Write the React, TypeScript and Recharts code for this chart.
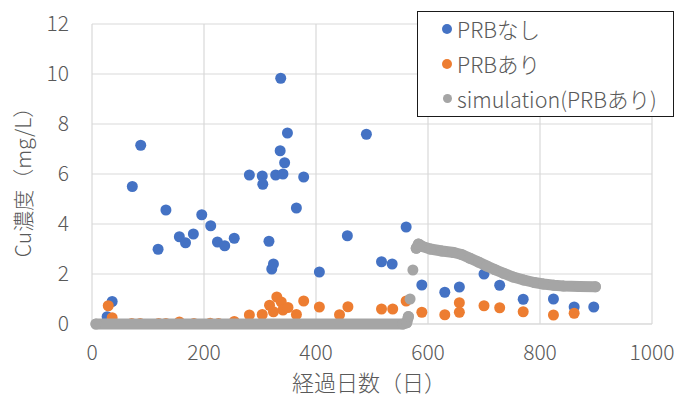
import React from 'react';
import { ScatterChart, Scatter, XAxis, YAxis, CartesianGrid } from 'recharts';

const xTicks = [0, 200, 400, 600, 800, 1000];
const yTicks = [0, 2, 4, 6, 8, 10, 12];
const seriesNames = ['PRBなし', 'PRBあり', 'simulation(PRBあり)'];
const xTitle = '経過日数（日）';
const yTitle = 'Cu濃度（mg/L）';

// PRBなし (days, mg/L)
const prbNoneDays = [27, 36, 72, 87, 118, 132, 156, 167, 181, 196, 212, 224, 237, 254, 281, 304, 305, 316, 321, 324, 328, 336, 337, 341, 344, 349, 365, 378, 406, 456, 490, 517, 536, 561, 589, 630, 656, 700, 728, 770, 824, 861, 896];
const prbNoneVals = [0.29, 0.9, 5.5, 7.15, 2.99, 4.56, 3.49, 3.25, 3.6, 4.37, 3.93, 3.28, 3.13, 3.43, 5.96, 5.92, 5.59, 3.31, 2.2, 2.4, 5.96, 6.93, 9.83, 6.0, 6.45, 7.64, 4.64, 5.88, 2.08, 3.53, 7.59, 2.49, 2.4, 3.88, 1.56, 1.27, 1.48, 2.0, 1.55, 0.99, 1.0, 0.68, 0.68];

// PRBあり
const prbDays = [29, 36, 71, 86, 119, 132, 156, 182, 211, 226, 254, 281, 304, 317, 324, 330, 338, 341, 350, 365, 378, 406, 442, 457, 517, 537, 561, 589, 630, 656, 656, 700, 728, 770, 824, 861];
const prbVals = [0.73, 0.25, 0.02, 0.02, 0.02, 0.02, 0.08, 0.02, 0.03, 0.02, 0.1, 0.36, 0.38, 0.75, 0.49, 1.08, 0.88, 0.56, 0.66, 0.38, 0.92, 0.68, 0.37, 0.69, 0.6, 0.6, 0.92, 0.47, 0.37, 0.85, 0.47, 0.73, 0.65, 0.49, 0.36, 0.43];

// simulation(PRBあり): three visible pieces
const simFlatDays = [7, 555, 562, 565];
const simFlatVals = [0, 0, 0.05, 0.3];
const simRiseDays = [568, 573];
const simRiseVals = [1.0, 2.16];
const simTailDays = [579, 583, 590, 604, 625, 646, 660, 675, 690, 705, 720, 735, 752, 771, 790, 806, 825, 842, 870, 899];
const simTailVals = [3.03, 3.2, 3.1, 3.0, 2.92, 2.86, 2.78, 2.63, 2.48, 2.32, 2.17, 2.03, 1.88, 1.76, 1.66, 1.6, 1.55, 1.52, 1.5, 1.49];

const BLUE = '#4472C4';
const ORANGE = '#ED7D31';
const GRAY = '#A5A5A5';
const TEXT = '#595959';
const FONT = '"Noto Sans CJK JP", "Noto Sans", sans-serif';
const WEIGHT = 300;

const zip = (xs: number[], ys: number[]) => xs.map((x, i) => ({ x, y: ys[i] }));

const dot = (color: string) => (p: any) => <circle cx={p.cx} cy={p.cy} r={5.5} fill={color} />;

const YTitle = (props: any) => {
  const vb = props.viewBox || { y: 24, height: 300 };
  const cx = 22;
  const cy = vb.y + vb.height / 2 + 3;
  return (
    <text x={cx} y={cy} transform={`rotate(-90 ${cx} ${cy})`} textAnchor="middle" dominantBaseline="central" fill={TEXT} fontSize={21} fontWeight={WEIGHT} fontFamily={FONT}>
      {yTitle}
    </text>
  );
};

const XTitle = (props: any) => {
  const vb = props.viewBox || { x: 92, width: 560 };
  const cx = vb.x + vb.width / 2 - 3;
  return (
    <text x={cx} y={381} textAnchor="middle" dominantBaseline="central" fill={TEXT} fontSize={22} fontWeight={WEIGHT} fontFamily={FONT}>
      {xTitle}
    </text>
  );
};

const legendColors = [BLUE, ORANGE, GRAY];

export default function App() {
  return (
    <div style={{ position: 'absolute', left: 0, top: 0, width: 676, height: 396, background: '#fff' }}>
      <ScatterChart width={676} height={396} margin={{ top: 24, right: 24, left: 0, bottom: 0 }}>
        <CartesianGrid stroke="#D9D9D9" strokeWidth={1.2} />
        <XAxis
          type="number"
          dataKey="x"
          domain={[0, 1000]}
          ticks={xTicks}
          tickLine={false}
          tickSize={0}
          tickMargin={21}
          axisLine={{ stroke: '#D9D9D9' }}
          height={72}
          tick={{ fill: TEXT, fontSize: 21, fontWeight: WEIGHT, fontFamily: FONT }}
          label={{ value: xTitle, content: XTitle }}
        />
        <YAxis
          type="number"
          dataKey="y"
          domain={[0, 12]}
          ticks={yTicks}
          tickLine={false}
          tickSize={0}
          tickMargin={23}
          axisLine={false}
          width={92}
          tick={{ fill: TEXT, fontSize: 21, fontWeight: WEIGHT, fontFamily: FONT }}
          label={{ value: yTitle, content: YTitle }}
        />
        <Scatter name={seriesNames[0]} data={zip(prbNoneDays, prbNoneVals)} fill={BLUE} shape={dot(BLUE)} isAnimationActive={false} />
        <Scatter name={seriesNames[1]} data={zip(prbDays, prbVals)} fill={ORANGE} shape={dot(ORANGE)} isAnimationActive={false} />
        <Scatter
          name={seriesNames[2]}
          data={zip(simFlatDays, simFlatVals)}
          fill={GRAY}
          shape={dot(GRAY)}
          line={{ stroke: GRAY, strokeWidth: 11, strokeLinecap: 'round', strokeLinejoin: 'round' }}
          lineType="joint"
          isAnimationActive={false}
        />
        <Scatter name={seriesNames[2] + ' '} data={zip(simRiseDays, simRiseVals)} fill={GRAY} shape={dot(GRAY)} isAnimationActive={false} legendType="none" />
        <Scatter
          name={seriesNames[2] + '  '}
          data={zip(simTailDays, simTailVals)}
          fill={GRAY}
          shape={dot(GRAY)}
          line={{ stroke: GRAY, strokeWidth: 11, strokeLinecap: 'round', strokeLinejoin: 'round' }}
          lineType="joint"
          legendType="none"
          isAnimationActive={false}
        />
      </ScatterChart>
      <div
        style={{
          position: 'absolute',
          left: 417,
          top: 11,
          width: 255,
          height: 104,
          border: '1px solid #1a1a1a',
          background: '#fff',
          fontFamily: FONT,
          fontSize: 21.5,
          fontWeight: WEIGHT,
          color: TEXT,
        }}
      >
        {seriesNames.map((n, i) => (
          <div key={n} style={{ position: 'absolute', left: 0, top: -1 + i * 35, height: 35, display: 'flex', alignItems: 'center', whiteSpace: 'nowrap' }}>
            <span style={{ display: 'inline-block', width: i === 2 ? 9 : 10, height: i === 2 ? 9 : 10, borderRadius: '50%', background: legendColors[i], marginLeft: i === 2 ? 24.5 : 24, marginRight: i === 2 ? 5.5 : 5 }} />
            <span style={{ lineHeight: '35px' }}>{n}</span>
          </div>
        ))}
      </div>
    </div>
  );
}
